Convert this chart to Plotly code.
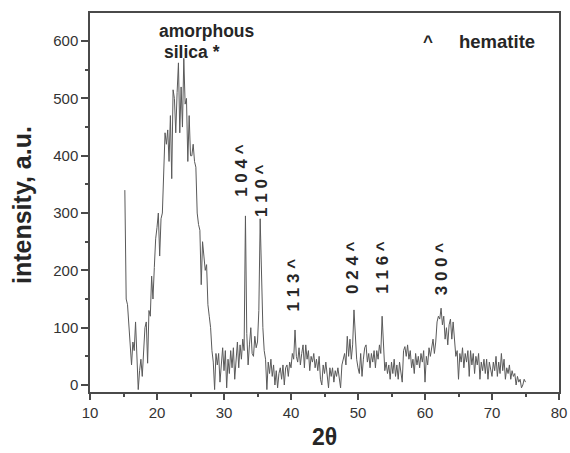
import numpy as np
import plotly.graph_objects as go

# Sampling grid of the XRD scan (2θ, degrees)
two_theta = np.round(np.arange(15.2, 75.01, 0.2), 1)

# Intensity, 5 points per degree (x.2, x.4, x.6, x.8, x+1.0)
intensity = [
    340, 150, 140, 110, 80,      # 15.2-16.0
    35, 75, 60, 110, 45,         # 16.2-17.0
    -8, 25, 45, 15, 50,          # 17.2-18.0
    100, 110, 38, 130, 120,      # 18.2-19.0
    190, 150, 205, 255, 275,     # 19.2-20.0
    300, 225, 290, 300, 380,     # 20.2-21.0
    440, 420, 445, 390, 470,     # 21.2-22.0
    360, 515, 500, 440, 510,     # 22.2-23.0
    562, 440, 520, 450, 570,     # 23.2-24.0
    490, 500, 390, 470, 400,     # 24.2-25.0
    400, 420, 390, 380, 300,     # 25.2-26.0
    280, 270, 175, 250, 225,     # 26.2-27.0
    200, 210, 140, 120, 100,     # 27.2-28.0
    60, 40, -8, 55, 35,          # 28.2-29.0
    55, 5, 40, 65, 25,           # 29.2-30.0
    60, -5, 45, 20, 60,          # 30.2-31.0
    30, 65, 10, 50, 75,          # 31.2-32.0
    30, 70, 45, 80, 60,          # 32.2-33.0
    295, 90, 35, 70, 100,        # 33.2-34.0
    55, 50, 85, 65, 75,          # 34.2-35.0
    130, 290, 180, 100, 60,      # 35.2-36.0
    45, -8, 40, 20, 45,          # 36.2-37.0
    15, 35, 0, 25, -5,           # 37.2-38.0
    20, 30, 10, 35, 0,           # 38.2-39.0
    30, 35, 15, 40, 30,          # 39.2-40.0
    55, 45, 96, 50, 40,          # 40.2-41.0
    65, 35, 55, 70, 30,          # 41.2-42.0
    70, 45, 60, 25, 50,          # 42.2-43.0
    40, 55, 30, 45, 25,          # 43.2-44.0
    50, 10, 0, 35, 20,           # 44.2-45.0
    40, 15, -5, 30, 15,          # 45.2-46.0
    30, 5, 25, 15, 30,           # 46.2-47.0
    10, -5, 35, 45, 55,          # 47.2-48.0
    35, 85, 50, 80, 45,          # 48.2-49.0
    70, 131, 85, 45, 30,         # 49.2-50.0
    20, 55, 15, 45, 65,          # 50.2-51.0
    70, 40, 55, 30, 55,          # 51.2-52.0
    40, 60, 30, 60, 45,          # 52.2-53.0
    70, 55, 120, 70, 25,         # 53.2-54.0
    40, 20, 35, 10, 40,          # 54.2-55.0
    20, 45, 15, 35, 10,          # 55.2-56.0
    40, 20, 5, 60, 67,           # 56.2-57.0
    50, 70, 45, 60, 30,          # 57.2-58.0
    45, 20, 55, 35, 50,          # 58.2-59.0
    30, 55, 40, 60, 5,           # 59.2-60.0
    50, 35, 65, 50, 70,          # 60.2-61.0
    80, 55, 75, 110, 120,        # 61.2-62.0
    115, 134, 105, 120, 80,      # 62.2-63.0
    100, 70, 105, 115, 80,       # 63.2-64.0
    110, 75, 50, 60, 10,         # 64.2-65.0
    55, 40, 65, 30, 55,          # 65.2-66.0
    40, 60, 15, 60, 35,          # 66.2-67.0
    55, 20, 50, 35, 55,          # 67.2-68.0
    10, 40, 25, 45, 20,          # 68.2-69.0
    45, 10, 40, 30, 15,          # 69.2-70.0
    40, 25, 50, 15, 40,          # 70.2-71.0
    20, 55, 25, 45, 10,          # 71.2-72.0
    30, 20, 35, 10, 25,          # 72.2-73.0
    15, 20, 0, 15, 5,            # 73.2-74.0
    10, -5, 0, 10, 5,            # 74.2-75.0
]

# Peak labels (hkl of hematite) and where they sit
peak_labels = ["1 0 4 ^", "1 1 0 ^", "1 1 3 ^", "0 2 4 ^", "1 1 6 ^", "3 0 0 ^"]
peak_label_x = [32.5, 35.5, 40.4, 49.25, 53.7, 62.4]
peak_label_y = [375, 340, 175, 206, 206, 202]

x_ticks = [10, 20, 30, 40, 50, 60, 70, 80]
y_ticks = [0, 100, 200, 300, 400, 500, 600]

FONT = "Liberation Sans, Arial, sans-serif"
TXT = "#262626"
AX = "#4a4a4a"

W, H = 570, 453
ML, MR, MT, MB = 90, 11, 13, 61

fig = go.Figure()
fig.add_trace(go.Scatter(
    x=two_theta, y=intensity, mode="lines",
    line=dict(color="#5a5a5a", width=1),
    showlegend=False, hoverinfo="skip",
))

for lab, lx, ly in zip(peak_labels, peak_label_x, peak_label_y):
    fig.add_annotation(x=lx, y=ly, xref="x", yref="y", text=lab, textangle=-90,
                       showarrow=False,
                       font=dict(family=FONT, size=17, color=TXT, weight="bold"))

fig.add_annotation(x=27.5, y=618, xref="x", yref="y", text="amorphous", showarrow=False,
                   font=dict(family=FONT, size=17.5, color=TXT, weight="bold"))
fig.add_annotation(x=25.2, y=581, xref="x", yref="y", text="silica *", showarrow=False,
                   font=dict(family=FONT, size=17.5, color=TXT, weight="bold"))
fig.add_annotation(x=60.4, y=599, xref="x", yref="y", text="^", showarrow=False,
                   font=dict(family=FONT, size=17, color=TXT, weight="bold"))
fig.add_annotation(x=70.7, y=599, xref="x", yref="y", text="hematite", showarrow=False,
                   font=dict(family=FONT, size=18.5, color=TXT, weight="bold"))

# Axis titles placed in pixel-true paper coordinates
pw, ph = W - ML - MR, H - MT - MB
fig.add_annotation(x=(324 - ML) / pw, y=(H - MB - 437) / ph, xref="paper", yref="paper",
                   text="2θ", showarrow=False, xanchor="center", yanchor="middle",
                   font=dict(family=FONT, size=23, color=TXT, weight="bold"))
fig.add_annotation(x=(22 - ML) / pw, y=(H - MB - 205) / ph, xref="paper", yref="paper",
                   text="intensity, a.u.", textangle=-90, showarrow=False,
                   xanchor="center", yanchor="middle",
                   font=dict(family=FONT, size=25, color=TXT, weight="bold"))

fig.update_xaxes(
    range=[10, 80], tickvals=x_ticks, ticktext=[str(v) for v in x_ticks],
    ticks="outside", ticklen=6, tickwidth=1.5, tickcolor=AX,
    minor=dict(dtick=5, tick0=10, ticks="outside", ticklen=3, tickwidth=1.5, tickcolor=AX),
    showline=True, linecolor=AX, linewidth=1.5, mirror=True,
    showgrid=False, zeroline=False, automargin=False,
    tickfont=dict(family=FONT, size=15, color="#333333"),
)
fig.update_yaxes(
    range=[-12.2, 649], tickvals=y_ticks, ticktext=[str(v) for v in y_ticks],
    ticks="outside", ticklen=7, tickwidth=1.5, tickcolor=AX,
    minor=dict(dtick=50, tick0=0, ticks="outside", ticklen=3, tickwidth=1.5, tickcolor=AX),
    showline=True, linecolor=AX, linewidth=1.5, mirror=True,
    showgrid=False, zeroline=False, automargin=False,
    tickfont=dict(family=FONT, size=15, color="#333333"),
)

fig.update_layout(
    width=W, height=H,
    margin=dict(l=ML, r=MR, t=MT, b=MB),
    paper_bgcolor="white", plot_bgcolor="white",
    showlegend=False,
)

fig.write_html("out.html")
